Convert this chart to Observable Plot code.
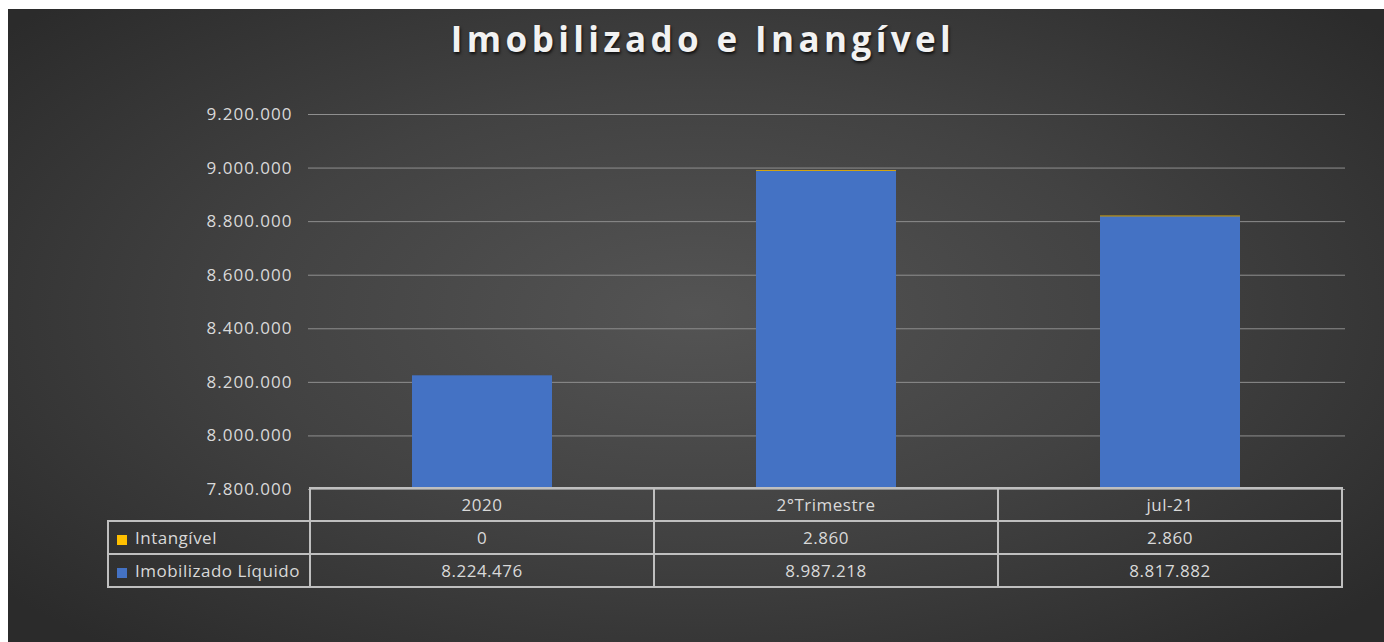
<!DOCTYPE html>
<html><head><meta charset="utf-8">
<script src="https://cdn.jsdelivr.net/npm/d3@7"></script>
<script src="https://cdn.jsdelivr.net/npm/@observablehq/plot@0.6"></script>
<style>
body{margin:0;background:#fff;}
#wrap{position:relative;width:1384px;height:642px;overflow:hidden;background:#fff;font-family:"Open Sans",sans-serif;}
#panel{position:absolute;left:8px;top:9px;right:0;bottom:0;background:radial-gradient(ellipse 65% 70% at 50% 48%, #545454 0%, #424242 50%, #2b2b2b 100%);}
#title{position:absolute;left:0;width:1384px;padding-left:22px;box-sizing:border-box;top:21px;text-align:center;color:#f2f2f2;font-weight:700;font-size:35px;line-height:35px;letter-spacing:4.4px;text-shadow:1px 2px 3px rgba(0,0,0,.75);}
#chart{position:absolute;left:0;top:0;}
#chart svg text{letter-spacing:1px;}
#tbl{position:absolute;left:107px;top:487px;border-collapse:collapse;color:#d9d9d9;font-size:17px;letter-spacing:0.5px;}
#tbl td{border:2px solid #bfbfbf;height:31px;padding:0;text-align:center;vertical-align:middle;white-space:nowrap;}
#tbl td.blank{border:none;}
#tbl td.lab{text-align:left;padding-left:8px;}
.mk{display:inline-block;width:10px;height:10px;margin-right:8px;vertical-align:-1px;}
</style></head>
<body>
<div id="wrap">
  <div id="panel"></div>
  <div id="chart"></div>
  <div id="title">Imobilizado e Inangível</div>
  <table id="tbl"></table>
</div>
<script>
const categories = ["2020", "2°Trimestre", "jul-21"];
const intangivel = [0, 2860, 2860];
const imobilizado = [8224476, 8987218, 8817882];
const seriesNames = ["Imobilizado Líquido", "Intangível"];
const seriesColors = ["#4472C4", "#FFC000"];
const yTicks = [7800000, 8000000, 8200000, 8400000, 8600000, 8800000, 9000000, 9200000];

const fmt = d3.formatLocale({decimal: ",", thousands: ".", grouping: [3], currency: ["R$ ", ""]}).format(",d");

const data = categories.flatMap((c, i) => [
  {cat: c, serie: seriesNames[0], value: imobilizado[i]},
  {cat: c, serie: seriesNames[1], value: intangivel[i]}
]);

const chart = Plot.plot({
  width: 1384, height: 642,
  marginLeft: 310, marginRight: 42, marginTop: 114, marginBottom: 153,
  style: {background: "transparent", color: "#d9d9d9", fontFamily: "Open Sans, sans-serif", fontSize: "17px", overflow: "visible"},
  x: {domain: categories, padding: 0, axis: null},
  y: {domain: [7800000, 9200000], axis: null, label: null},
  color: {domain: seriesNames, range: seriesColors},
  marks: [
    Plot.gridY(yTicks, {stroke: "#8f8f8f", strokeOpacity: 1, strokeWidth: 1, insetLeft: -2, insetRight: -3}),
    Plot.barY(data, Plot.stackY({x: "cat", y: "value", fill: "serie", order: seriesNames, insetLeft: 102, insetRight: 102, clip: true})),
    Plot.axisY(yTicks, {tickSize: 0, tickPadding: 18, tickFormat: fmt, fontSize: 17, fill: "#d9d9d9", label: null})
  ]
});
document.getElementById("chart").append(chart);

// data table below the chart
const tbl = document.getElementById("tbl");
const head = document.createElement("tr");
const blank = document.createElement("td");
blank.className = "blank"; blank.style.width = "201px";
head.append(blank);
categories.forEach(c => { const td = document.createElement("td"); td.textContent = c; td.style.width = "342px"; head.append(td); });
tbl.append(head);
const rows = [[seriesNames[1], seriesColors[1], intangivel], [seriesNames[0], seriesColors[0], imobilizado]];
rows.forEach(([name, col, vals]) => {
  const tr = document.createElement("tr");
  const lab = document.createElement("td");
  lab.className = "lab";
  const mk = document.createElement("span"); mk.className = "mk"; mk.style.background = col;
  lab.append(mk, document.createTextNode(name));
  tr.append(lab);
  vals.forEach(v => { const td = document.createElement("td"); td.textContent = fmt(v); tr.append(td); });
  tbl.append(tr);
});
</script>
</body></html>
